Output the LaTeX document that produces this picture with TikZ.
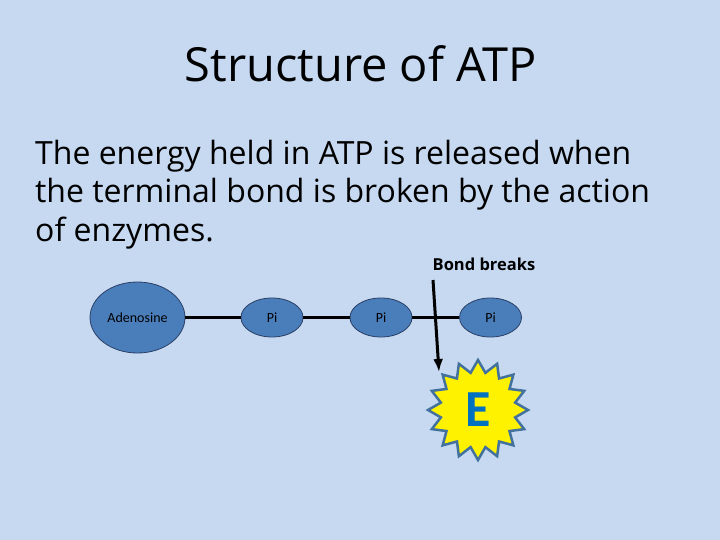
\documentclass[tikz,border=0pt]{standalone}
\usepackage{fontspec}
\setmainfont{Open Sans}
\newfontfamily\smallfont{Carlito}
\usetikzlibrary{positioning,calc,shapes.geometric,arrows.meta}
\definecolor{slidebg}{HTML}{C6D9F1}
\definecolor{ballblue}{HTML}{4A7EBB}
\definecolor{ballline}{HTML}{2A3F66}
\definecolor{starline}{HTML}{41719C}
\definecolor{eblue}{HTML}{0070C0}
\tikzset{mol/.style={ellipse,draw=ballline,fill=ballblue,line width=0.8pt,inner sep=0pt,
            font=\smallfont\fontsize{14}{14}\selectfont},
         bond/.style={line width=2.5pt},
         bodyline/.style={anchor=base west,inner sep=0pt,font=\fontsize{32}{38}\selectfont}
        }

\begin{document}
\begin{tikzpicture}[x=1pt,y=-1pt]
      % 背景
      \fill[slidebg] (0,0) rectangle (720,540);
      \useasboundingbox (0,0) rectangle (720,540);

      % タイトルと本文
      \node[anchor=base,inner sep=0pt,font=\fontsize{47}{50}\selectfont] (title) at (361,82) {Structure of ATP};
      \node[bodyline] (line1) at (35,165) {The energy held in ATP is released when};
      \node[bodyline] (line2) at (35,203) {the terminal bond is broken by the action};
      \node[bodyline] (line3) at (35,241) {of enzymes.};

      % 分子の定義
      \node[mol,minimum width=95pt,minimum height=71pt] (aden) at (137.5,317.5) {Adenosine};
      \node[mol,minimum width=62pt,minimum height=39pt] (pi1) at (272,317.5) {Pi};
      \node[mol,minimum width=62pt,minimum height=39pt] (pi2) at (381,317.5) {Pi};
      \node[mol,minimum width=62pt,minimum height=39pt] (pi3) at (490.5,317.5) {Pi};

      % 結合
      \draw[bond] (aden) -- (pi1) -- (pi2) -- (pi3);

      % 切断とエネルギー
      \node[anchor=base,inner sep=0pt,font=\bfseries\fontsize{16.5}{16.5}\selectfont] (breaks) at (484,270) {Bond breaks};
      \coordinate (cuttop) at (433,280);
      \coordinate (cuttip) at (439,372);
      \draw[line width=3pt,-{Latex[length=13pt,width=10pt]}] (cuttop) -- (cuttip);
      \node[star,star points=16,star point ratio=1.32,minimum size=100pt,inner sep=0pt,
            fill=yellow,draw=starline,line width=2.5pt,text=eblue,
            font=\smallfont\bfseries\fontsize{52}{52}\selectfont] (energy) at (478,410) {E};
    \end{tikzpicture}
\end{document}
